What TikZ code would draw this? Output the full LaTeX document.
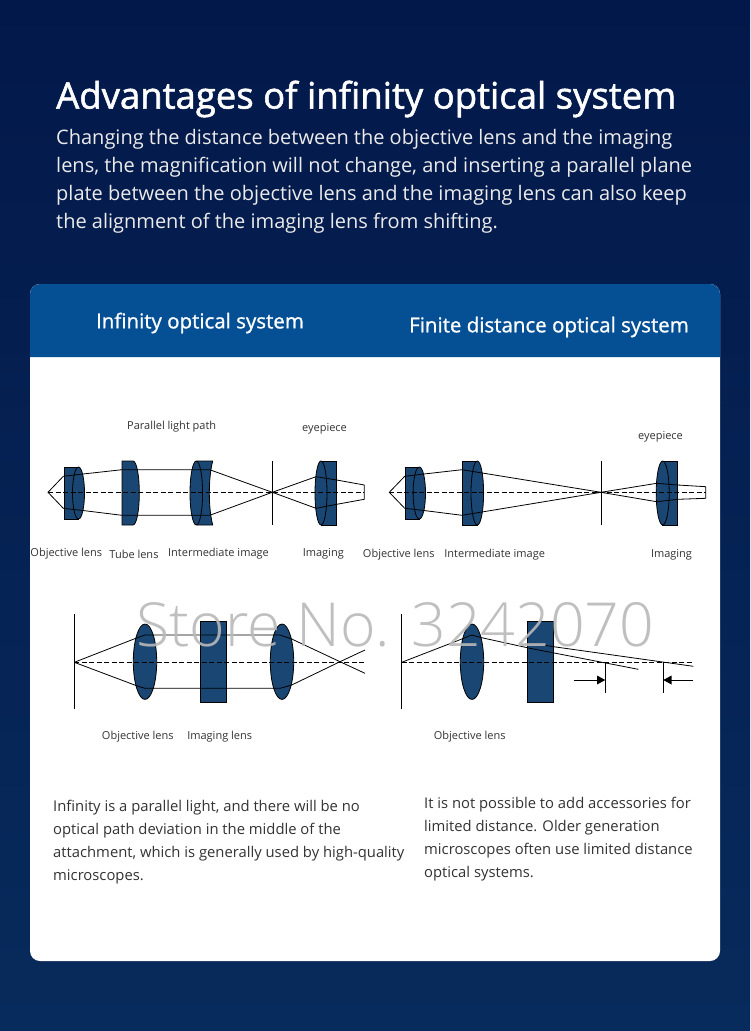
\documentclass[tikz,border=0pt]{standalone}
\usepackage{fontspec}
\usepackage{xcolor}
\setmainfont{Open Sans}
\newfontfamily\markfont{Open Sans Light}
\definecolor{bgtop}{HTML}{03184A}
\definecolor{bgbottom}{HTML}{072B5C}
\definecolor{headblue}{HTML}{054F94}
\definecolor{lensblue}{HTML}{1A4673}
\definecolor{captiongray}{HTML}{333333}
\tikzset{
  lens/.style={draw=black, fill=lensblue, line width=0.8pt},
  ray/.style={draw=black, line width=0.8pt},
  axis/.style={draw=black, line width=0.9pt, dash pattern=on 5pt off 2.5pt},
  tag/.style={text=captiongray, font=\fontsize{11}{13}\selectfont, inner sep=0pt},
  head/.style={text=white, inner sep=0pt, font=\fontsize{20.5}{24}\selectfont\addfontfeatures{FakeBold=1}},
  note/.style={text=captiongray, anchor=west, align=left, inner sep=0pt, font=\fontsize{14.8}{23}\selectfont},
  tip/.style={fill=black, draw=none}
}
\begin{document}
\begin{tikzpicture}[x=1pt, y=-1pt]
\useasboundingbox (0,0) rectangle (750,1031);
\fill[top color=bgtop, bottom color=bgbottom] (0,0) rectangle (750,1031);
\node[text=white, anchor=west, inner sep=0pt, font=\fontsize{36.5}{40}\selectfont\addfontfeatures{FakeBold=1.5}] (title) at (56,99) {Advantages of infinity optical system};
\node[text=white!92!black, anchor=west, align=left, inner sep=0pt, font=\fontsize{20}{28}\selectfont] (intro) at (56,181) {Changing the distance between the objective lens and the imaging\\lens, the magnification will not change, and inserting a parallel plane\\plate between the objective lens and the imaging lens can also keep\\the alignment of the imaging lens from shifting.};

\fill[white, rounded corners=10pt] (30,284) rectangle (720,961);
\fill[headblue] (30,357) [rounded corners=10pt] -- (30,284) -- (720,284) [sharp corners] -- (720,357) -- cycle;
\node[head] (infinity_head) at (200,323) {Infinity optical system};
\node[head] (finite_head) at (549,327) {Finite distance optical system};

\draw[lens] (64.3,467) rectangle (78.5,519);
\draw[lens] (78.5,493) ellipse (6 and 26);
\draw[lens] (122,461) -- (133,461) .. controls (136.5,461) and (139.3,475) .. (139.3,493) .. controls (139.3,511) and (136.5,525) .. (133,525) -- (122,525) -- cycle;
\draw[lens] (197,461) -- (212.7,461) .. controls (208.2,478) and (208.2,508) .. (212.7,525) -- (197,525) -- cycle;
\draw[lens] (196.3,493) ellipse (6.3 and 32);
\draw[lens] (321,461) rectangle (336.7,525);
\draw[lens] (321,493) ellipse (6 and 32);
\draw[axis] (48,492.3) -- (364.3,492.3);
\draw[ray] (272.3,461) -- (272.3,525);
\draw[ray] (83,474) -- (122,469.7) -- (209.7,469.7) -- (272.3,492.3) -- (316,508.3) -- (336.7,504.3) -- (364.3,499.3) -- (364.3,485) -- (336.7,480) -- (316,476.7) -- (272.3,492.3) -- (209.7,515.3) -- (122,515.3) -- (83,510.5);
\draw[ray] (83,474) -- (63.3,476.3) -- (48,492.3) -- (63.3,508.3) -- (83,510.5);

\draw[lens] (405,467) rectangle (419.3,519);
\draw[lens] (419.3,493) ellipse (6.2 and 26);
\draw[lens] (462,461) rectangle (477.3,525);
\draw[lens] (477.3,493) ellipse (6.3 and 32);
\draw[lens] (662.7,461) rectangle (677.7,525);
\draw[lens] (662.7,493) ellipse (6.5 and 32);
\draw[axis] (389.3,492.3) -- (705.7,492.3);
\draw[ray] (601,461) -- (601,525);
\draw[ray] (389.3,492.3) -- (404.7,476.3) -- (424,474) -- (462,469.7) -- (601,492.3) -- (656.7,501.7) -- (677.7,499.3) -- (705.7,498.3) -- (705.7,486.7) -- (677.7,485) -- (656.7,483.3) -- (601,492.3) -- (462,515.3) -- (424,510.5) -- (404.7,508.3) -- cycle;

\draw[lens] (145,661.7) ellipse (11.7 and 37.7);
\draw[lens] (200.3,621.3) rectangle (226.7,702.7);
\draw[lens] (282,661.7) ellipse (11.7 and 37.7);
\draw[ray] (74.3,614) -- (74.3,709.3);
\draw[axis] (74.3,662.3) -- (366,662.3);
\draw[ray] (74.3,662.3) -- (137.3,637.7) -- (145,635) -- (280,635) -- (291.7,639) -- (340,661.7) -- (365,673.3);
\draw[ray] (74.3,662.3) -- (137.3,686) -- (145,688.3) -- (280,688.3) -- (291.7,685) -- (340,661.7) -- (365,650);

\draw[lens] (472,661.7) ellipse (11.7 and 37.7);
\draw[lens] (527.3,621.3) rectangle (553.7,702.7);
\draw[ray] (401.7,614) -- (401.7,709.3);
\draw[axis] (401.7,662.3) -- (693.3,662.3);
\draw[ray] (401.7,662.3) -- (456.7,641) -- (471.7,635) -- (481.7,637.7) -- (530,648.3) -- (638.3,669.3);
\draw[ray] (543,645) -- (553.7,646.7) -- (693.3,666.3);
\draw[ray] (605.3,662.3) -- (605.3,692.7);
\draw[ray] (663.3,662.3) -- (663.3,692.7);
\draw[ray] (574,680) -- (597,680);
\draw[ray] (671,680) -- (693.3,680);
\fill[tip] (605.3,680) -- (597,675.5) -- (597,684.5) -- cycle;
\fill[tip] (663.3,680) -- (671.5,675.5) -- (671.5,684.5) -- cycle;

\node[tag] (parallel_path) at (171.7,427) {Parallel light path};
\node[tag] (eyepiece_a) at (324.5,429) {eyepiece};
\node[tag] (objective_a) at (66.3,554) {Objective lens};
\node[tag] (tube_a) at (134,554) {Tube lens};
\node[tag] (intermediate_a) at (218.5,554) {Intermediate image};
\node[tag] (imaging_a) at (323.3,554) {Imaging};
\node[tag] (eyepiece_b) at (660.5,436.5) {eyepiece};
\node[tag] (objective_b) at (398.8,555) {Objective lens};
\node[tag] (intermediate_b) at (494.7,555) {Intermediate image};
\node[tag] (imaging_b) at (671.5,555) {Imaging};
\node[tag] (objective_c) at (137.8,737) {Objective lens};
\node[tag] (imaging_c) at (219.7,737) {Imaging lens};
\node[tag] (objective_d) at (469.7,737) {Objective lens};

\node[note] (infinity_note) at (53,842.5) {Infinity is a parallel light, and there will be no\\optical path deviation in the middle of the\\attachment, which is generally used by high-quality\\microscopes.};
\node[note] (finite_note) at (424,839.5) {It is not possible to add accessories for\\limited distance. Older generation\\microscopes often use limited distance\\optical systems.};

\node[text=gray!55, opacity=0.9, inner sep=0pt, font=\markfont\fontsize{60.7}{66}\selectfont] (store_mark) at (395,625) {Store No. 3242070};
\end{tikzpicture}
\end{document}
